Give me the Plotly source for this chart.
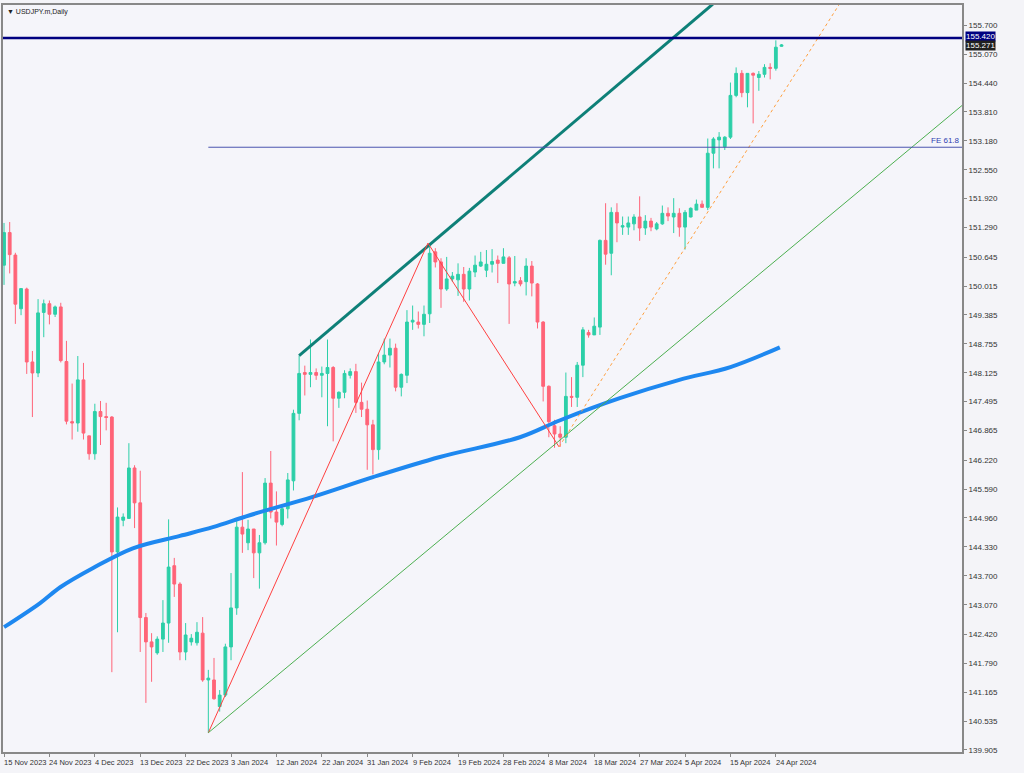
import plotly.graph_objects as go

# USDJPY daily bars (open, close, high, low)
opens = [150.47,151.18,150.69,149.52,149.95,148.36,148.12,149.44,149.63,149.40,149.56,148.37,147.06,147.03,147.97,146.75,146.36,147.28,147.17,147.16,
         144.22,144.91,144.95,146.05,145.29,142.79,142.26,142.02,142.32,142.67,143.92,143.52,142.04,142.26,142.24,142.45,141.43,141.43,140.85,141.10,
         142.15,143.00,144.76,144.42,144.72,144.20,144.42,145.72,145.09,144.82,145.16,145.77,147.24,148.13,148.09,148.13,148.07,148.11,148.24,147.57,
         147.70,148.07,148.15,147.48,147.33,146.99,146.45,148.36,148.51,148.66,147.81,148.07,149.23,149.23,149.18,149.41,150.76,150.54,149.95,150.17,
         150.15,150.27,149.95,150.32,150.45,150.36,150.49,150.58,150.51,150.63,150.08,150.13,150.11,150.45,150.06,149.23,147.83,146.97,146.79,146.72,
         147.61,147.59,148.29,149.00,148.95,149.12,151.01,150.73,151.62,151.30,151.30,151.37,151.52,151.28,151.43,151.26,151.37,151.60,151.52,151.60,
         151.30,151.52,151.67,151.80,151.73,152.91,153.20,153.05,153.26,154.17,154.65,154.23,154.65,154.56,154.63,154.78,154.76,155.24]
closes = [151.18,150.70,149.62,149.96,148.36,148.12,149.43,149.63,149.40,149.56,148.39,147.07,147.03,147.97,146.81,146.36,147.28,147.17,147.15,144.22,
          144.98,144.98,146.05,145.29,142.79,142.26,142.15,142.32,142.67,143.89,143.52,142.04,142.41,142.34,142.47,141.43,141.47,141.02,141.10,142.15,
          143.00,144.76,144.61,144.72,144.20,144.42,145.72,145.09,144.87,145.16,145.79,147.24,148.11,148.09,148.13,148.07,148.11,148.24,147.57,147.70,
          148.11,148.15,147.48,147.33,146.99,146.45,148.36,148.51,148.66,147.81,148.09,149.23,149.27,149.18,149.40,150.73,150.54,149.95,150.17,150.23,
          150.27,149.95,150.34,150.47,150.54,150.49,150.55,150.51,150.65,150.06,150.11,150.06,150.45,150.08,149.23,147.83,147.06,146.79,146.72,147.61,
          147.59,148.29,149.06,148.95,149.14,151.01,150.71,151.62,151.39,151.33,151.39,151.52,151.28,151.43,151.30,151.37,151.60,151.54,151.60,151.30,
          151.62,151.71,151.80,151.73,152.91,153.22,153.26,153.26,154.17,154.65,154.23,154.65,154.61,154.63,154.78,154.76,155.22,155.27]
highs = [151.39,151.41,150.74,149.96,149.98,148.60,149.73,149.72,149.70,149.59,149.65,148.82,147.89,148.49,148.34,146.75,147.45,147.51,147.47,147.18,
         145.19,145.06,146.59,146.11,145.99,142.89,142.45,142.38,143.17,144.93,144.09,143.56,142.67,142.43,142.69,142.80,141.65,141.91,141.21,142.22,
         143.76,144.95,145.96,144.92,144.72,144.59,145.83,146.42,145.54,145.20,145.94,147.32,148.50,148.28,148.85,148.22,148.26,148.85,148.27,147.72,
         148.18,148.22,148.32,147.91,147.52,147.10,148.55,148.87,148.87,148.76,148.11,149.49,149.59,149.46,149.59,150.95,150.84,150.62,150.65,150.32,
         150.51,150.43,150.41,150.68,150.76,150.80,150.82,150.68,150.84,150.67,150.67,150.21,150.62,150.56,150.08,149.25,147.85,147.10,146.96,148.13,
         148.03,148.36,149.12,149.06,149.33,151.03,151.82,151.73,151.82,151.53,151.53,151.58,151.97,151.56,151.50,151.41,151.77,151.73,151.93,151.71,
         151.67,151.73,151.90,151.88,153.23,153.26,153.37,153.28,154.45,154.78,154.72,154.65,154.67,154.70,154.85,154.87,155.37,155.29]
lows = [150.04,150.29,149.19,149.38,148.10,147.16,148.03,148.90,149.18,149.34,148.35,147.00,146.67,146.84,146.67,146.23,146.23,146.55,146.87,141.60,
        142.47,144.78,144.95,144.74,142.04,140.93,141.39,141.98,142.04,142.24,143.24,141.86,141.86,142.18,142.18,141.39,140.28,141.00,140.74,141.06,
        141.86,142.85,144.20,144.26,143.65,143.42,144.38,144.95,144.36,144.78,144.95,145.56,147.09,147.63,147.81,147.97,147.59,146.96,146.63,147.36,
        147.57,148.00,147.25,147.16,146.01,145.91,146.23,148.31,148.24,147.72,147.61,147.90,149.06,149.09,148.92,149.21,150.42,149.54,149.91,150.11,
        149.80,149.67,149.70,150.21,150.43,150.21,150.31,150.08,150.51,149.19,150.01,150.01,149.81,149.79,149.09,147.50,146.72,146.49,146.51,146.59,
        147.38,147.38,148.03,148.89,148.95,148.95,150.48,150.25,150.97,151.13,151.13,151.23,151.00,151.13,151.21,151.23,151.35,151.43,151.17,151.09,
        150.81,151.51,151.67,151.73,151.67,152.58,152.58,152.98,153.22,154.13,154.13,153.91,153.56,154.27,154.56,154.52,154.71,155.23]
bars = list(range(len(opens)))

# 200-day moving average read at a few places along the blue line
ma_bars = [0, 6.3, 9.9, 15.7, 22.7, 31, 36.8, 43.3, 54.4, 65, 76.8, 90.9, 98, 108.5, 119, 128, 136.7]
ma_vals = [142.58, 143.10, 143.45, 143.87, 144.30, 144.57, 144.76, 145.02, 145.42, 145.85, 146.29, 146.72, 147.09, 147.57, 147.97, 148.25, 148.68]

date_labels = ["15 Nov 2023", "24 Nov 2023", "4 Dec 2023", "13 Dec 2023", "22 Dec 2023", "3 Jan 2024",
               "12 Jan 2024", "22 Jan 2024", "31 Jan 2024", "9 Feb 2024", "19 Feb 2024", "28 Feb 2024",
               "8 Mar 2024", "18 Mar 2024", "27 Mar 2024", "5 Apr 2024", "15 Apr 2024", "24 Apr 2024"]
date_bars = list(range(0, 137, 8))

price_ticks = [155.700, 155.070, 154.440, 153.810, 153.180, 152.550, 151.920, 151.290, 150.645, 150.015,
               149.385, 148.755, 148.125, 147.495, 146.865, 146.220, 145.590, 144.960, 144.330, 143.700,
               143.070, 142.420, 141.790, 141.165, 140.535, 139.905]

resistance = 155.420
last_price = 155.271
fe_level = 153.04

XMAX = 168.8
font = dict(family="Liberation Sans", size=8, color="#333333")

fig = go.Figure()
fig.add_trace(go.Candlestick(
    x=bars, open=opens, high=highs, low=lows, close=closes,
    increasing=dict(line=dict(color="#2CCFA8", width=1), fillcolor="#2CCFA8"),
    decreasing=dict(line=dict(color="#FF6478", width=1), fillcolor="#FF6478"),
    whiskerwidth=0, hoverinfo="skip"))

fig.add_trace(go.Scatter(x=ma_bars, y=ma_vals, mode="lines", line_shape="spline",
                         line=dict(color="#1E88F0", width=4), hoverinfo="skip"))

# drawn objects
fig.add_trace(go.Scatter(x=[52, 124.9], y=[148.50, 156.16], mode="lines",
                         line=dict(color="#0E8078", width=3), hoverinfo="skip"))
fig.add_trace(go.Scatter(x=[36, 74.7, 97.8], y=[lows[36], highs[75], lows[98]], mode="lines",
                         line=dict(color="#FF4040", width=1), hoverinfo="skip"))
fig.add_trace(go.Scatter(x=[36, XMAX], y=[lows[36], 153.95], mode="lines",
                         line=dict(color="#4CAF50", width=1), hoverinfo="skip"))
fig.add_trace(go.Scatter(x=[97.8, 147.1], y=[lows[98], 156.14], mode="lines",
                         line=dict(color="#FFA040", width=1, dash="dot"), hoverinfo="skip"))
fig.add_trace(go.Scatter(x=[36, XMAX], y=[fe_level, fe_level], mode="lines",
                         line=dict(color="#4B55B0", width=1), hoverinfo="skip"))
fig.add_trace(go.Scatter(x=[-1, XMAX], y=[resistance, resistance], mode="lines",
                         line=dict(color="#000080", width=2.5), hoverinfo="skip"))

datefont = dict(family="Liberation Sans", size=7.5, color="#333333")
ann = [dict(x=b, y=0, xref="x", yref="paper", yshift=-4, xshift=-2, text=t, showarrow=False,
            xanchor="left", yanchor="top", font=datefont) for b, t in zip(date_bars, date_labels)]
ann.append(dict(x=XMAX, y=fe_level, xref="x", yref="y", text="FE 61.8", showarrow=False,
                xanchor="right", yanchor="bottom", font=dict(family="Liberation Sans", size=8, color="#3040B0")))
ann.append(dict(x=1, y=resistance, xref="paper", yref="y", xshift=3, yshift=2, text="155.420", showarrow=False,
                xanchor="left", yanchor="middle", bgcolor="#000080", borderpad=0,
                font=dict(family="Liberation Sans", size=8, color="white")))
ann.append(dict(x=1, y=last_price, xref="paper", yref="y", xshift=3, yshift=-1, text="155.271", showarrow=False,
                xanchor="left", yanchor="middle", bgcolor="#202020", borderpad=0,
                font=dict(family="Liberation Sans", size=8, color="white")))
ann.append(dict(x=0, y=1, xref="paper", yref="paper", xshift=2, yshift=-1, text="▼ USDJPY.m,Daily", showarrow=False,
                xanchor="left", yanchor="top", font=dict(family="Liberation Sans", size=7, color="#222222")))

fig.update_layout(
    width=1024, height=773, margin=dict(l=3, r=62, t=5, b=21, autoexpand=False),
    paper_bgcolor="#F4F4F8", plot_bgcolor="#F5F5FA", showlegend=False,
    annotations=ann, font=font,
    xaxis=dict(range=[-0.18, XMAX], rangeslider=dict(visible=False), tickvals=date_bars,
               ticktext=[""] * len(date_bars), ticks="outside", ticklen=3, tickcolor="#888888",
               showgrid=False, zeroline=False, showline=True, linecolor="#888888", linewidth=2, mirror=True),
    yaxis=dict(range=[139.86, 156.14], side="right", tickvals=price_ticks,
               ticktext=["%.3f" % p for p in price_ticks], ticks="outside", ticklen=3, tickcolor="#888888",
               showgrid=False, zeroline=False, showline=True, linecolor="#888888", linewidth=2, mirror=True),
)

# drop the browser's default page margin so the chart sits at the window corner
fig.write_html("out.html", config={"displayModeBar": False},
               post_script="document.body.style.margin='0';")
